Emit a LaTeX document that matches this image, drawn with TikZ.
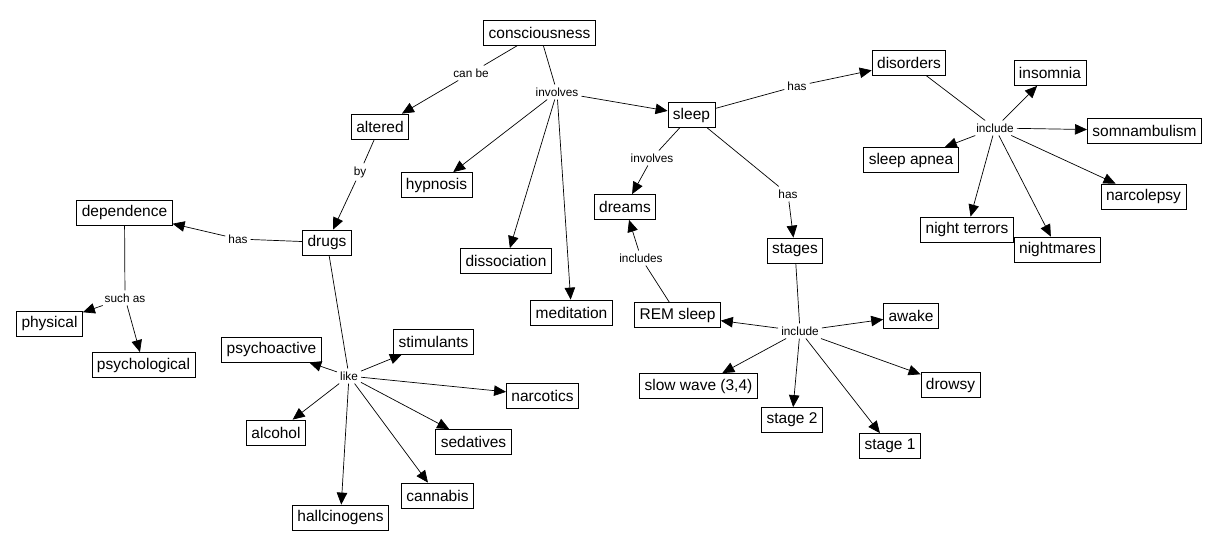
\documentclass[tikz,border=0pt]{standalone}
\usepackage{fontspec}
\setmainfont{Liberation Sans}
\usetikzlibrary{arrows.meta}
\tikzset{
  concept/.style={draw, line width=0.8pt, font=\fontsize{15.5}{15.5}\selectfont, inner xsep=5pt, inner ysep=0pt, minimum height=25pt},
  lbl/.style={font=\fontsize{11.8}{11.8}\selectfont, inner sep=3pt},
  ln/.style={line width=0.7pt},
  arr/.style={line width=0.7pt, -{Triangle[length=12pt,width=10.5pt]}}
}
\begin{document}
\begin{tikzpicture}[x=1pt,y=-1pt]
\useasboundingbox[fill=white] (0,0) rectangle (1213,549);
% concepts
\node[concept] (consciousness) at (539.5,32.5) {consciousness};
\node[concept] (altered) at (380,126.5) {altered};
\node[concept] (dependence) at (124.5,212.5) {dependence};
\node[concept] (drugs) at (327,242.5) {drugs};
\node[concept] (physical) at (49.5,323.5) {physical};
\node[concept] (psychological) at (143.5,365) {psychological};
\node[concept] (psychoactive) at (271.5,349.5) {psychoactive};
\node[concept] (stimulants) at (433.5,341.5) {stimulants};
\node[concept] (narcotics) at (542.5,395.5) {narcotics};
\node[concept] (alcohol) at (276,432.5) {alcohol};
\node[concept] (sedatives) at (473.5,442) {sedatives};
\node[concept] (cannabis) at (437.5,495.5) {cannabis};
\node[concept] (hallcinogens) at (340.5,517.5) {hallcinogens};
\node[concept] (hypnosis) at (436.5,185) {hypnosis};
\node[concept] (dissociation) at (506,261) {dissociation};
\node[concept] (meditation) at (571.5,312.5) {meditation};
\node[concept] (sleep) at (691.5,115) {sleep};
\node[concept] (dreams) at (625,207) {dreams};
\node[concept] (REM) at (677.5,315) {REM sleep};
\node[concept] (stages) at (795,250.5) {stages};
\node[concept] (awake) at (911,315.5) {awake};
\node[concept] (slowwave) at (698.5,386) {slow wave (3,4)};
\node[concept] (stage2) at (792,420) {stage 2};
\node[concept] (stage1) at (890,446) {stage 1};
\node[concept] (drowsy) at (950.5,385) {drowsy};
\node[concept] (disorders) at (909,62.5) {disorders};
\node[concept] (insomnia) at (1050,73) {insomnia};
\node[concept] (somnambulism) at (1144.5,130.5) {somnambulism};
\node[concept] (sleepapnea) at (911,160) {sleep apnea};
\node[concept] (narcolepsy) at (1143.5,196.5) {narcolepsy};
\node[concept] (nightterrors) at (967,229.5) {night terrors};
\node[concept] (nightmares) at (1057.5,249.5) {nightmares};
% linking phrases
\node[lbl] (canbe) at (471,73) {can be};
\node[lbl] (involves) at (557,92) {involves};
\node[lbl] (by) at (360,172) {by};
\node[lbl] (has0) at (238,239) {has};
\node[lbl] (suchas) at (125,298) {such as};
\node[lbl] (like) at (349,376) {like};
\node[lbl] (involves2) at (652,158) {involves};
\node[lbl] (includes) at (641,258) {includes};
\node[lbl] (hasD) at (797,86) {has};
\node[lbl] (hasS) at (788,194) {has};
\node[lbl] (includeD) at (995,128) {include};
\node[lbl] (includeS) at (800,331) {include};
% connectors
\draw[ln] (consciousness) -- (canbe);
\draw[arr] (canbe) -- (altered);
\draw[ln] (consciousness) -- (involves);
\draw[arr] (involves) -- (sleep);
\draw[arr] (involves) -- (hypnosis);
\draw[arr] (involves) -- (dissociation);
\draw[arr] (involves) -- (meditation);
\draw[ln] (altered) -- (by);
\draw[arr] (by) -- (drugs);
\draw[ln] (drugs) -- (has0);
\draw[arr] (has0) -- (dependence);
\draw[ln] (dependence) -- (suchas);
\draw[arr] (suchas) -- (physical);
\draw[arr] (suchas) -- (psychological);
\draw[ln] (drugs) -- (like);
\draw[arr] (like) -- (psychoactive);
\draw[arr] (like) -- (stimulants);
\draw[arr] (like) -- (narcotics);
\draw[arr] (like) -- (alcohol);
\draw[arr] (like) -- (sedatives);
\draw[arr] (like) -- (cannabis);
\draw[arr] (like) -- (hallcinogens);
\draw[ln] (sleep) -- (involves2);
\draw[arr] (involves2) -- (dreams);
\draw[ln] (REM) -- (includes);
\draw[arr] (includes) -- (dreams);
\draw[ln] (sleep) -- (hasD);
\draw[arr] (hasD) -- (disorders);
\draw[ln] (sleep) -- (hasS);
\draw[arr] (hasS) -- (stages);
\draw[ln] (disorders) -- (includeD);
\draw[arr] (includeD) -- (insomnia);
\draw[arr] (includeD) -- (somnambulism);
\draw[arr] (includeD) -- (sleepapnea);
\draw[arr] (includeD) -- (narcolepsy);
\draw[arr] (includeD) -- (nightterrors);
\draw[arr] (includeD) -- (nightmares);
\draw[ln] (stages) -- (includeS);
\draw[arr] (includeS) -- (REM);
\draw[arr] (includeS) -- (awake);
\draw[arr] (includeS) -- (slowwave);
\draw[arr] (includeS) -- (stage2);
\draw[arr] (includeS) -- (stage1);
\draw[arr] (includeS) -- (drowsy);
\end{tikzpicture}
\end{document}
